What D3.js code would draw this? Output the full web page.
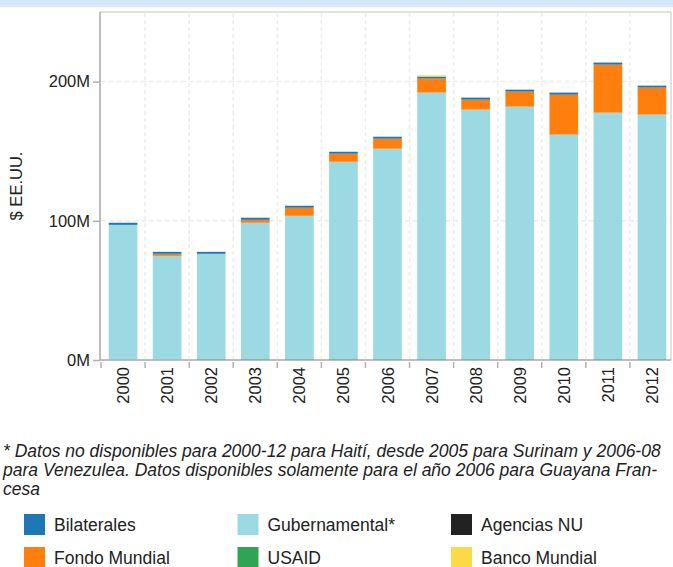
<!DOCTYPE html>
<html>
<head>
<meta charset="utf-8">
<script src="https://cdn.jsdelivr.net/npm/d3@7"></script>
<style>
  body { margin: 0; background: #fff; }
  svg text { font-family: "Liberation Sans", Arial, sans-serif; fill: #222; }
</style>
</head>
<body>
<svg id="chart" width="673" height="567"></svg>
<script>
// values in millions of US$
const years = ["2000","2001","2002","2003","2004","2005","2006","2007","2008","2009","2010","2011","2012"];
const usaid        = [0, 0, 0.7, 0.7, 0.7, 0.7, 0.7, 0.7, 0.7, 0.7, 0.7, 0.7, 0.7];
const gubernamental = [97.1, 74.8, 75.6, 97.9, 102.9, 141.7, 151.1, 191.4, 179.2, 181.3, 161.2, 177.0, 175.6];
const fondoMundial = [0, 1.5, 0, 2.1, 5.8, 5.8, 7.2, 10.1, 7.1, 10.8, 28.7, 34.5, 19.4];
const bilaterales  = [1.5, 1.4, 1.4, 1.5, 1.4, 1.4, 1.4, 1.4, 1.5, 1.4, 1.5, 1.5, 1.4];
const agenciasNU   = [0, 0, 0, 0, 0, 0, 0, 0, 0, 0, 0, 0, 0];
const bancoMundial = [0, 0, 0, 0, 0, 0, 0, 0.9, 0, 0, 0, 0, 0];

const yTicks = [0, 100, 200];

const series = [
  { key: "usaid", name: "USAID", values: usaid, color: "#31a354" },
  { key: "gub", name: "Gubernamental*", values: gubernamental, color: "#9bd9e3" },
  { key: "fondo", name: "Fondo Mundial", values: fondoMundial, color: "#ff7f0e" },
  { key: "bil", name: "Bilaterales", values: bilaterales, color: "#1f77b4" },
  { key: "nu", name: "Agencias NU", values: agenciasNU, color: "#222222" },
  { key: "banco", name: "Banco Mundial", values: bancoMundial, color: "#ffd845" }
];

// legend order (row by row)
const legendOrder = ["bil", "gub", "nu", "fondo", "usaid", "banco"];

const svg = d3.select("#chart");

// title band (title itself is cut off at the top)
svg.append("rect").attr("x", 0).attr("y", 0).attr("width", 673).attr("height", 7)
  .attr("fill", "#d6e6fb");

const plotLeft = 101, plotRight = 674, plotTop = 12, plotBottom = 360;

const x = d3.scaleBand().domain(years).range([plotLeft, plotRight])
  .paddingInner(0.35).paddingOuter(0.175);
const y = d3.scaleLinear().domain([0, 250]).range([plotBottom, plotTop]);

const step = x.step();
const edge = (yr) => x(yr) - step * x.paddingInner() / 2;

// plot frame
svg.append("rect")
  .attr("x", plotLeft - 1).attr("y", plotTop)
  .attr("width", 671 - plotLeft + 1).attr("height", plotBottom - plotTop)
  .attr("fill", "none").attr("stroke", "#c4c4c4").attr("stroke-width", 1);

// grid
const grid = svg.append("g");
grid.selectAll("line.v")
  .data(years.slice(1))
  .enter().append("line")
  .attr("x1", (d) => edge(d)).attr("x2", (d) => edge(d))
  .attr("y1", plotTop + 1).attr("y2", plotBottom)
  .attr("stroke", "#ececec").attr("stroke-width", 1.5)
  .attr("stroke-dasharray", "4,3");
grid.selectAll("line.h")
  .data(yTicks.slice(1))
  .enter().append("line")
  .attr("x1", plotLeft).attr("x2", 671)
  .attr("y1", (d) => y(d)).attr("y2", (d) => y(d))
  .attr("stroke", "#ececec").attr("stroke-width", 1.5)
  .attr("stroke-dasharray", "5,3");

// stacked bars
const table = years.map((yr, i) => {
  const row = { year: yr };
  series.forEach((s) => { row[s.key] = s.values[i]; });
  return row;
});
const stack = d3.stack().keys(series.map((s) => s.key))(table);

svg.append("g").selectAll("g")
  .data(stack)
  .enter().append("g")
  .attr("fill", (d, i) => series[i].color)
  .selectAll("rect")
  .data((d) => d)
  .enter().append("rect")
  .attr("x", (d) => x(d.data.year))
  .attr("width", x.bandwidth())
  .attr("y", (d) => y(d[1]))
  .attr("height", (d) => Math.max(0, y(d[0]) - y(d[1])));

// y axis
const yAxis = svg.append("g")
  .attr("transform", `translate(${plotLeft - 1},0)`)
  .call(d3.axisLeft(y).tickValues(yTicks).tickFormat((d) => d + "M").tickSizeOuter(0).tickSize(7).tickPadding(3));
yAxis.select(".domain").attr("stroke", "#b0b0b0").attr("stroke-width", 1.5)
  .attr("d", `M0,${plotTop}V${plotBottom}`);
yAxis.selectAll(".tick line").attr("stroke", "#b0b0b0").attr("stroke-width", 1.5);
yAxis.selectAll(".tick text").attr("font-size", 16.5).attr("fill", "#222")
  .attr("font-family", "Liberation Sans, Arial, sans-serif");

svg.append("text")
  .attr("transform", `translate(22,${(plotTop + plotBottom) / 2}) rotate(-90)`)
  .attr("text-anchor", "middle")
  .attr("font-size", 16.5)
  .text("$ EE.UU.");

// x axis
const xAxis = svg.append("g").attr("transform", `translate(0,${plotBottom})`);
xAxis.append("line")
  .attr("x1", plotLeft - 1).attr("x2", 671)
  .attr("stroke", "#b0b0b0").attr("stroke-width", 1.5);
xAxis.selectAll("line.tick")
  .data(years)
  .enter().append("line")
  .attr("x1", (d) => edge(d)).attr("x2", (d) => edge(d))
  .attr("y1", 2).attr("y2", 8)
  .attr("stroke", "#b0b0b0").attr("stroke-width", 1.5);
xAxis.selectAll("text")
  .data(years)
  .enter().append("text")
  .attr("transform", (d) => `translate(${x(d) + x.bandwidth() / 2 + 6},7) rotate(-90)`)
  .attr("text-anchor", "end")
  .attr("font-size", 16.5)
  .text((d) => d);

// footnote
const note = [
  "* Datos no disponibles para 2000-12 para Haití, desde 2005 para Surinam y 2006-08",
  "para Venezulea. Datos disponibles solamente para el año 2006 para Guayana Fran-",
  "cesa"
];
svg.append("g").selectAll("text")
  .data(note)
  .enter().append("text")
  .attr("x", 3).attr("y", (d, i) => 457 + i * 19)
  .attr("font-size", 17.5)
  .attr("font-style", "italic")
  .text((d) => d);

// legend
const legend = svg.append("g").selectAll("g")
  .data(legendOrder.map((k) => series.find((s) => s.key === k)))
  .enter().append("g")
  .attr("transform", (d, i) => `translate(${24 + (i % 3) * 213.5},${514 + Math.floor(i / 3) * 33})`);
legend.append("rect").attr("width", 21).attr("height", 21).attr("fill", (d) => d.color);
legend.append("text").attr("x", 30).attr("y", 17).attr("font-size", 17.5).text((d) => d.name);
</script>
</body>
</html>
